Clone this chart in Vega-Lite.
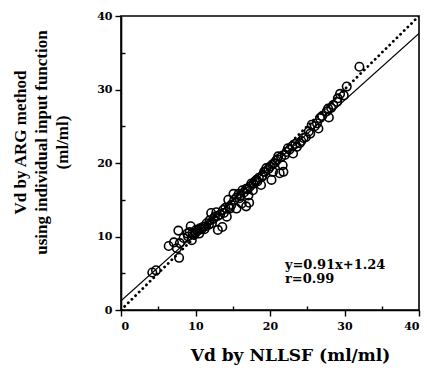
{
  "$schema": "https://vega.github.io/schema/vega-lite/v6.json",
  "autosize": {"type": "none"},
  "padding": {"left": 121, "top": 16, "right": 8, "bottom": 64},
  "width": 298,
  "height": 294,
  "background": "white",
  "config": {
    "view": {"stroke": "black", "strokeWidth": 1.6},
    "axis": {
      "domainColor": "black", "domainWidth": 1.6, "tickColor": "black", "tickWidth": 1.4,
      "labelFont": "DejaVu Serif", "labelFontWeight": "bold", "labelFontSize": 11, "labelColor": "black",
      "titleFont": "Liberation Serif", "titleFontWeight": "bold", "titleColor": "black",
      "grid": false
    }
  },
  "datasets": {
    "pts": [
      {"nllsf": 4.2, "arg": 5.1}, {"nllsf": 4.7, "arg": 5.4}, {"nllsf": 6.4, "arg": 8.7}, {"nllsf": 7.1, "arg": 9.2},
      {"nllsf": 7.7, "arg": 10.8}, {"nllsf": 7.8, "arg": 7.1}, {"nllsf": 7.5, "arg": 8.4}, {"nllsf": 7.9, "arg": 9.1},
      {"nllsf": 8.4, "arg": 9.8}, {"nllsf": 8.9, "arg": 10.4}, {"nllsf": 9.35, "arg": 11.4}, {"nllsf": 9.5, "arg": 9.5},
      {"nllsf": 9.8, "arg": 10.2}, {"nllsf": 10.1, "arg": 10.9}, {"nllsf": 10.6, "arg": 11.1}, {"nllsf": 11.0, "arg": 11.3},
      {"nllsf": 11.5, "arg": 11.8}, {"nllsf": 11.9, "arg": 12.2}, {"nllsf": 12.1, "arg": 13.2}, {"nllsf": 12.6, "arg": 12.7},
      {"nllsf": 13.0, "arg": 10.9}, {"nllsf": 13.6, "arg": 11.3}, {"nllsf": 12.8, "arg": 13.3}, {"nllsf": 13.7, "arg": 13.6},
      {"nllsf": 14.2, "arg": 12.7}, {"nllsf": 14.4, "arg": 15.0}, {"nllsf": 14.6, "arg": 13.8}, {"nllsf": 15.1, "arg": 15.8},
      {"nllsf": 15.5, "arg": 13.8}, {"nllsf": 15.9, "arg": 15.2}, {"nllsf": 16.2, "arg": 14.5}, {"nllsf": 16.3, "arg": 16.3},
      {"nllsf": 16.8, "arg": 14.1}, {"nllsf": 17.1, "arg": 15.6}, {"nllsf": 17.2, "arg": 14.6}, {"nllsf": 17.3, "arg": 16.8},
      {"nllsf": 17.7, "arg": 16.3}, {"nllsf": 18.0, "arg": 17.5}, {"nllsf": 18.8, "arg": 17.0}, {"nllsf": 18.2, "arg": 17.7},
      {"nllsf": 18.9, "arg": 18.1}, {"nllsf": 19.3, "arg": 18.8}, {"nllsf": 19.5, "arg": 19.3}, {"nllsf": 20.2, "arg": 17.7},
      {"nllsf": 20.4, "arg": 18.8}, {"nllsf": 20.6, "arg": 20.0}, {"nllsf": 21.1, "arg": 20.9}, {"nllsf": 21.3, "arg": 18.6},
      {"nllsf": 21.8, "arg": 18.8}, {"nllsf": 21.7, "arg": 19.7}, {"nllsf": 22.0, "arg": 21.1}, {"nllsf": 22.4, "arg": 22.0},
      {"nllsf": 23.1, "arg": 21.3}, {"nllsf": 23.6, "arg": 22.2}, {"nllsf": 24.0, "arg": 22.7}, {"nllsf": 24.5, "arg": 23.4},
      {"nllsf": 25.4, "arg": 24.0}, {"nllsf": 25.6, "arg": 25.2}, {"nllsf": 26.5, "arg": 24.7}, {"nllsf": 26.7, "arg": 26.1},
      {"nllsf": 27.0, "arg": 26.4}, {"nllsf": 27.6, "arg": 27.0}, {"nllsf": 27.8, "arg": 27.4}, {"nllsf": 27.9, "arg": 26.2},
      {"nllsf": 28.5, "arg": 27.9}, {"nllsf": 29.1, "arg": 28.8}, {"nllsf": 29.4, "arg": 29.4}, {"nllsf": 29.9, "arg": 29.2},
      {"nllsf": 30.3, "arg": 30.4}, {"nllsf": 32.0, "arg": 33.1},
      {"nllsf": 9.0, "arg": 10.0}, {"nllsf": 9.2, "arg": 10.6}, {"nllsf": 9.6, "arg": 10.4}, {"nllsf": 10.0, "arg": 10.5},
      {"nllsf": 10.3, "arg": 10.8}, {"nllsf": 10.5, "arg": 10.4}, {"nllsf": 10.8, "arg": 11.0}, {"nllsf": 11.2, "arg": 11.0},
      {"nllsf": 11.4, "arg": 11.4}, {"nllsf": 11.8, "arg": 11.6}, {"nllsf": 12.2, "arg": 11.8}, {"nllsf": 12.4, "arg": 12.4},
      {"nllsf": 13.0, "arg": 12.8}, {"nllsf": 13.3, "arg": 13.0}, {"nllsf": 13.8, "arg": 13.2}, {"nllsf": 14.0, "arg": 13.9},
      {"nllsf": 14.5, "arg": 14.0}, {"nllsf": 14.8, "arg": 14.3}, {"nllsf": 15.2, "arg": 15.0}, {"nllsf": 15.5, "arg": 15.3},
      {"nllsf": 15.8, "arg": 15.8}, {"nllsf": 16.0, "arg": 15.5}, {"nllsf": 16.5, "arg": 16.0}, {"nllsf": 16.8, "arg": 16.5},
      {"nllsf": 17.0, "arg": 16.4}, {"nllsf": 17.5, "arg": 17.2}, {"nllsf": 17.8, "arg": 17.2}, {"nllsf": 18.3, "arg": 17.5},
      {"nllsf": 18.5, "arg": 18.0}, {"nllsf": 19.0, "arg": 18.3}, {"nllsf": 19.2, "arg": 18.8}, {"nllsf": 19.8, "arg": 19.2},
      {"nllsf": 20.0, "arg": 19.5}, {"nllsf": 20.3, "arg": 19.8}, {"nllsf": 20.8, "arg": 20.3}, {"nllsf": 21.0, "arg": 20.5},
      {"nllsf": 21.5, "arg": 20.8}, {"nllsf": 22.2, "arg": 21.5}, {"nllsf": 22.6, "arg": 21.8}, {"nllsf": 23.0, "arg": 22.3},
      {"nllsf": 23.4, "arg": 22.6}, {"nllsf": 24.2, "arg": 23.0}, {"nllsf": 24.8, "arg": 23.5}, {"nllsf": 25.2, "arg": 24.3},
      {"nllsf": 26.0, "arg": 25.0}, {"nllsf": 26.3, "arg": 25.4}, {"nllsf": 28.2, "arg": 27.5}, {"nllsf": 29.0, "arg": 28.3}
    ],
    "lines": [
      {"nllsf": 0, "arg": 1.24, "kind": "fit"}, {"nllsf": 40, "arg": 37.64, "kind": "fit"},
      {"nllsf": 0, "arg": 0, "kind": "identity"}, {"nllsf": 40, "arg": 40, "kind": "identity"}
    ]
  },
  "resolve": {"axis": {"x": "independent", "y": "independent"}},
  "layer": [
    {
      "data": {"name": "lines"},
      "transform": [{"filter": "datum.kind === 'fit'"}],
      "mark": {"type": "line", "color": "black", "strokeWidth": 1.2, "clip": true},
      "encoding": {
        "x": {"field": "nllsf", "type": "quantitative", "scale": {"domain": [0, 40], "nice": false},
          "axis": {"orient": "bottom", "values": [0, 10, 20, 30, 40], "tickSize": 6, "labelPadding": 4,
            "title": "Vd by NLLSF (ml/ml)", "titleFont": "DejaVu Serif", "titleFontSize": 17,
            "titleX": 169, "titleY": 50, "titleBaseline": "alphabetic", "titleAnchor": "middle"}},
        "y": {"field": "arg", "type": "quantitative", "scale": {"domain": [0, 40], "nice": false},
          "axis": {"orient": "left", "values": [0, 10, 20, 30, 40], "tickSize": 6, "labelPadding": 3,
            "title": ["Vd by ARG method", "using individual input function", "(ml/ml)"],
            "titleFontSize": 17, "titleLineHeight": 21, "titleAngle": -90,
            "titleX": -96, "titleY": 126, "titleBaseline": "alphabetic", "titleAlign": "center"}}
      }
    },
    {
      "data": {"name": "lines"},
      "transform": [{"filter": "datum.kind === 'identity'"}],
      "mark": {"type": "line", "color": "black", "strokeWidth": 2.8, "strokeDash": [0.1, 5], "strokeCap": "round", "clip": true},
      "encoding": {
        "x": {"field": "nllsf", "type": "quantitative",
          "axis": {"orient": "bottom", "values": [5, 15, 25, 35], "tickSize": -4, "labels": false, "domain": false, "title": null}},
        "y": {"field": "arg", "type": "quantitative",
          "axis": {"orient": "left", "values": [5, 15, 25, 35], "tickSize": -4, "labels": false, "domain": false, "title": null}}
      }
    },
    {
      "data": {"name": "pts"},
      "mark": {"type": "point", "shape": "circle", "filled": false, "color": "black", "size": 72, "strokeWidth": 1.6, "opacity": 1},
      "encoding": {
        "x": {"field": "nllsf", "type": "quantitative", "axis": null},
        "y": {"field": "arg", "type": "quantitative", "axis": null}
      }
    },
    {
      "data": {"values": [{}]},
      "mark": {"type": "text", "text": ["y=0.91x+1.24", "r=0.99"], "font": "DejaVu Serif", "fontWeight": "bold", "fontSize": 13, "align": "left", "baseline": "top", "lineHeight": 14, "color": "black"},
      "encoding": {
        "x": {"datum": 22, "type": "quantitative", "axis": null},
        "y": {"datum": 6.9, "type": "quantitative", "axis": null}
      }
    }
  ]
}
